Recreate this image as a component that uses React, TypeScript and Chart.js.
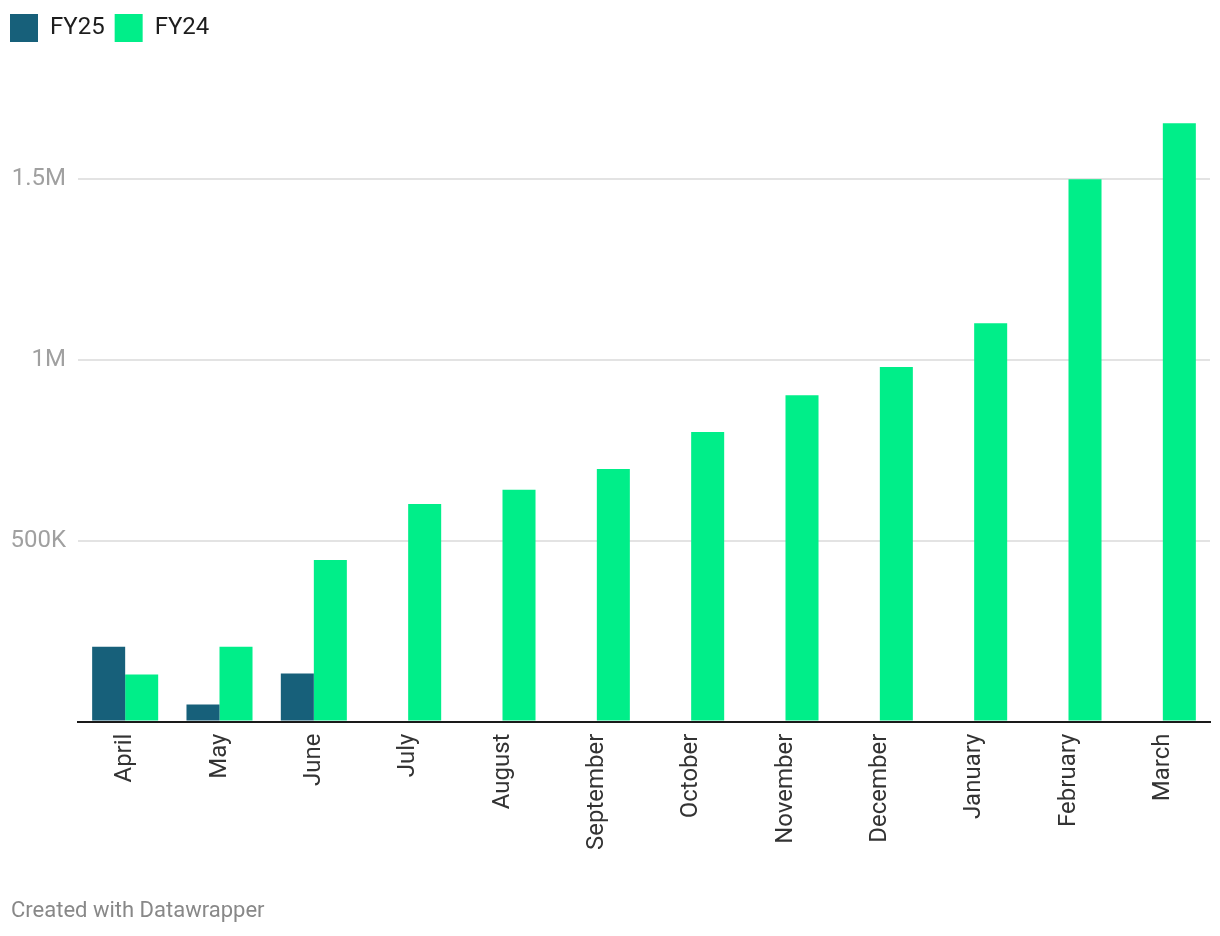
import React, { useEffect, useRef } from "react";
import { Chart, registerables } from "chart.js";

Chart.register(...registerables);

const categories = ["April", "May", "June", "July", "August", "September", "October", "November", "December", "January", "February", "March"];
const fy25Values = [207000, 47000, 133000, null, null, null, null, null, null, null, null, null];
const fy24Values = [130000, 207000, 447000, 602000, 641000, 699000, 801000, 903000, 981000, 1102000, 1500000, 1655000];
const yTicks = [0, 500000, 1000000, 1500000];
const yTickLabels = ["", "500K", "1M", "1.5M"];
const footerText = "Created with Datawrapper";

export default function App() {
  const ref = useRef<HTMLCanvasElement | null>(null);
  useEffect(() => {
    document.body.style.margin = "0";
    const ctx = ref.current!;
    const chart = new Chart(ctx, {
      type: "bar",
      data: {
        labels: categories,
        datasets: [
          { label: "FY25", data: fy25Values as any, backgroundColor: "#17607a", categoryPercentage: 0.7, barPercentage: 1 },
          { label: "FY24", data: fy24Values, backgroundColor: "#00ee89", categoryPercentage: 0.7, barPercentage: 1 },
        ],
      },
      plugins: [
        {
          id: "legendGap",
          beforeInit(c: any) {
            const lg = c.legend;
            if (!lg) return;
            const fit = lg.fit;
            lg.fit = function () {
              fit.bind(lg)();
              this.height += 55;
            };
          },
        },
      ],
      options: {
        animation: false,
        responsive: true,
        maintainAspectRatio: false,
        layout: { padding: { left: 0, right: 10, top: 4, bottom: 82 } },
        plugins: {
          tooltip: { enabled: false },
          legend: {
            display: true,
            position: "top",
            align: "start",
            labels: {
              boxWidth: 28,
              boxHeight: 28,
              padding: 10,
              color: "#1d1d1d",
              font: { family: "Roboto", size: 24 },
            },
          },
        },
        scales: {
          x: {
            grid: { display: false },
            border: { display: true, color: "#1a1a1a", width: 2 },
            ticks: {
              color: "#333333",
              font: { family: "Roboto", size: 24 },
              minRotation: 90,
              maxRotation: 90,
              padding: 4,
              autoSkip: false,
            },
          },
          y: {
            min: 0,
            max: 1700000,
            border: { display: false },
            grid: { color: "#e3e3e3", lineWidth: 2, drawTicks: false },
            afterBuildTicks: (scale: any) => {
              scale.ticks = yTicks.map((v) => ({ value: v }));
            },
            afterFit: (scale: any) => {
              scale.width = 78;
            },
            ticks: {
              color: "#a0a0a0",
              font: { family: "Roboto", size: 24 },
              padding: 12,
              callback: (v: any) => {
                const i = yTicks.indexOf(Number(v));
                return i >= 0 ? yTickLabels[i] : "";
              },
            },
          },
        },
      },
    });
    return () => chart.destroy();
  }, []);
  return (
    <div style={{ width: 1220, height: 936, position: "relative" }}>
      <canvas ref={ref} />
      <div
        style={{
          position: "absolute",
          left: 11,
          top: 897,
          fontFamily: "Roboto",
          fontSize: 22,
          color: "#888888",
          lineHeight: "26px",
        }}
      >
        {footerText}
      </div>
    </div>
  );
}
